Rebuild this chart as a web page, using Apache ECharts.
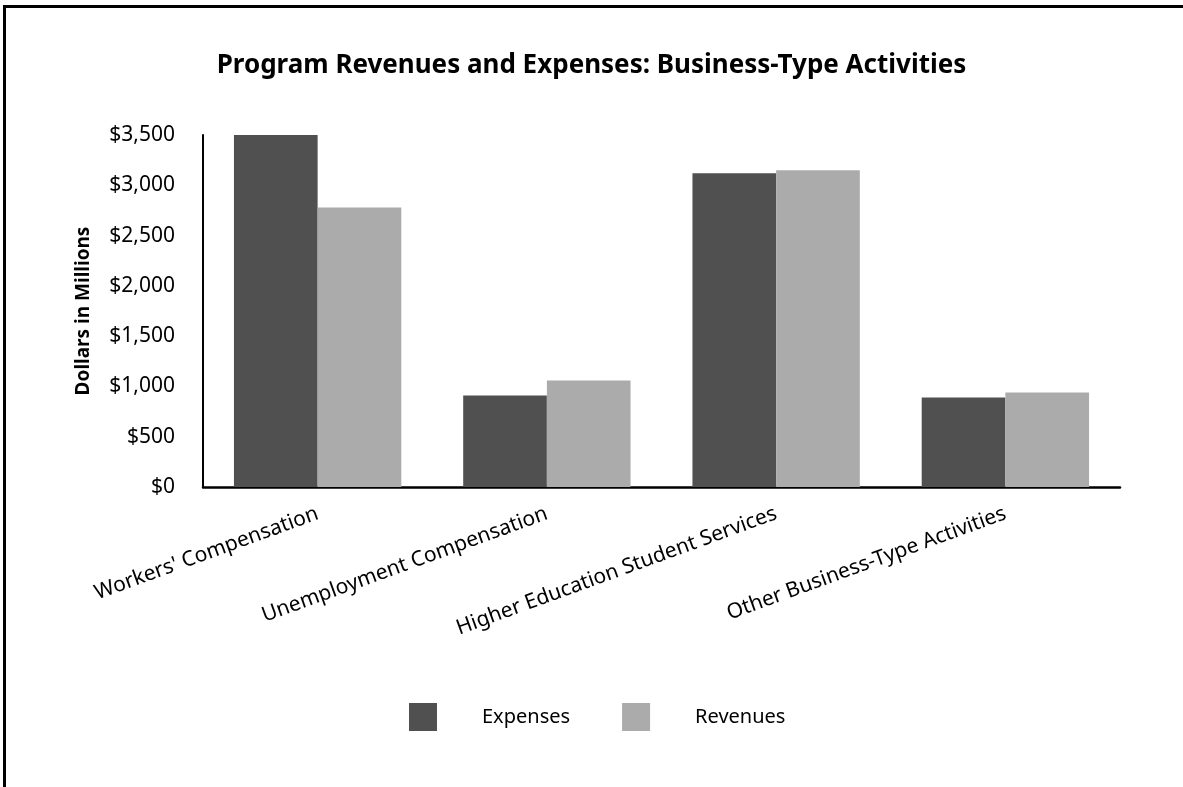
<!DOCTYPE html>
<html>
<head>
<meta charset="utf-8">
<script src="https://cdn.jsdelivr.net/npm/echarts@6/dist/echarts.min.js"></script>
<style>
  html, body { margin: 0; padding: 0; background: #fff; }
  #chart { width: 1183px; height: 787px; }
  #frame {
    position: absolute; left: 3px; top: 5px; width: 1180px; height: 782px;
    border-top: 3px solid #000; border-left: 3px solid #000; pointer-events: none;
  }
</style>
</head>
<body>
<div id="chart"></div>
<div id="frame"></div>
<script>
const categories = ["Workers' Compensation", 'Unemployment Compensation', 'Higher Education Student Services', 'Other Business-Type Activities'];
const expenses = [3510, 910, 3120, 890];
const revenues = [2780, 1060, 3150, 940];
const yTicks = [0, 500, 1000, 1500, 2000, 2500, 3000, 3500];

const font = 'Noto Sans';
let myChart = echarts.init(document.getElementById('chart'), null, { renderer: 'canvas' });

const money = (v) => '$' + v.toLocaleString('en-US');

option = {
    backgroundColor: '#fff',
    animation: false,
    title: {
        text: 'Program Revenues and Expenses: Business-Type Activities',
        left: 'center',
        top: 48,
        textStyle: { fontFamily: font, fontSize: 26, fontWeight: 'bold', color: '#000' }
    },
    legend: {
        data: ['Expenses', 'Revenues'],
        bottom: 51,
        left: 404,
        itemWidth: 28,
        itemHeight: 28,
        itemGap: 52,
        icon: 'rect',
        textStyle: { fontFamily: font, fontSize: 20, color: '#000', padding: [0, 0, 0, 40] }
    },
    grid: { left: 203, right: 63, top: 135, bottom: 300 },
    xAxis: {
        type: 'category',
        data: categories,
        axisLine: { lineStyle: { color: '#000', width: 2.5 } },
        axisTick: { show: false },
        axisLabel: { rotate: 20, interval: 0, margin: 26, fontFamily: font, fontSize: 21, color: '#000' }
    },
    yAxis: {
        type: 'value',
        min: yTicks[0],
        max: yTicks[yTicks.length - 1],
        interval: 500,
        name: 'Dollars in Millions',
        nameLocation: 'middle',
        nameGap: 110,
        nameTextStyle: { fontFamily: font, fontSize: 19, fontWeight: 'bold', color: '#000' },
        axisLine: { show: true, lineStyle: { color: '#000', width: 2 } },
        axisTick: { show: false },
        splitLine: { show: false },
        axisLabel: { margin: 28, fontFamily: font, fontSize: 21, color: '#000', formatter: money }
    },
    series: [
        {
            name: 'Expenses',
            type: 'bar',
            data: expenses,
            itemStyle: { color: '#505050' },
            barGap: '0%',
            barCategoryGap: '27%'
        },
        {
            name: 'Revenues',
            type: 'bar',
            data: revenues,
            itemStyle: { color: '#ababab' },
            barGap: '0%',
            barCategoryGap: '27%'
        }
    ]
};

myChart.setOption(option);
window.addEventListener('resize', myChart.resize);
</script>
</body>
</html>
